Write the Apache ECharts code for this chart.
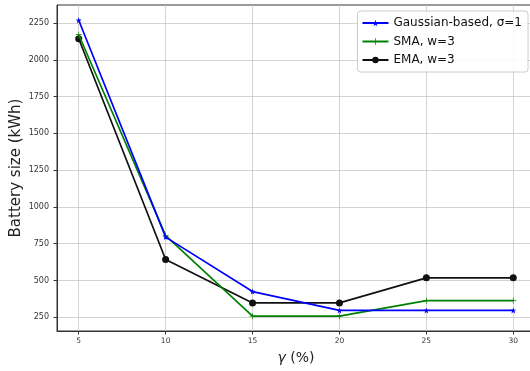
<!DOCTYPE html>
<html>
<head>
<meta charset="utf-8">
<script src="https://cdn.jsdelivr.net/npm/echarts@6/dist/echarts.min.js"></script>
<style>html,body{margin:0;padding:0;background:#fff}#c{width:530px;height:371px}</style>
</head>
<body>
<div id="c"></div>
<script>
const gammaValues = [5, 10, 15, 20, 25, 30];
const gaussian = [2268, 795, 425, 297, 297, 297];
const sma = [2170, 805, 258, 258, 363, 363];
const ema = [2143, 643, 348, 348, 518, 518];
const xTicks = [5, 10, 15, 20, 25, 30];
const yTicks = [250, 500, 750, 1000, 1250, 1500, 1750, 2000, 2250];
const seriesNames = ['Gaussian-based, σ=1', 'SMA, w=3', 'EMA, w=3'];

const starPath = 'path://M50,0 L61.8,34.5 L97.6,34.5 L68.8,55.9 L79.4,90.5 L50,69.1 L20.6,90.5 L31.2,55.9 L2.4,34.5 L38.2,34.5 Z';
const plusPath = 'path://M44,0 H56 V44 H100 V56 H56 V100 H44 V56 H0 V44 H44 Z';

function pairs(vals) { return gammaValues.map((g, i) => [g, vals[i]]); }

const chart = echarts.init(document.getElementById('c'), null, {renderer: 'canvas'});
const font = 'DejaVu Sans';
chart.setOption({
  animation: false,
  textStyle: {fontFamily: font},
  grid: {left: 57, top: 5, width: 478, height: 326, containLabel: false, outerBoundsMode: 'none',
         show: true, borderColor: '#333', borderWidth: 1, backgroundColor: 'transparent'},
  legend: {
    orient: 'vertical', right: 2, top: 11,
    backgroundColor: 'rgba(255,255,255,0.85)', borderColor: '#ccc', borderWidth: 1, borderRadius: 3,
    padding: [6, 6, 6, 4], itemWidth: 26, itemHeight: 8, itemGap: 6.5,
    textStyle: {fontFamily: font, fontSize: 12, color: '#111'},
    data: seriesNames.map(n => ({name: n}))
  },
  xAxis: {
    type: 'value', min: 3.75, max: 31.25,
    name: '{i|γ} (%)', nameLocation: 'middle', nameGap: 20, nameMoveOverlap: false,
    nameTextStyle: {fontSize: 14, color: '#222', fontFamily: font, rich: {i: {fontStyle: 'italic', fontSize: 14, fontFamily: font, color: '#222'}}},
    axisLine: {show: true, lineStyle: {color: '#333', width: 1}},
    axisTick: {show: true, customValues: xTicks, length: 3.5, lineStyle: {color: '#333'}},
    axisLabel: {customValues: xTicks, fontSize: 7.5, color: '#333', margin: 6, fontFamily: font, formatter: v => String(v)},
    splitLine: {show: true, lineStyle: {color: '#c8c8c8', width: 0.8}}
  },
  yAxis: {
    type: 'value', min: 157, max: 2372,
    name: 'Battery size (kWh)', nameLocation: 'middle', nameGap: 33, nameMoveOverlap: false,
    nameTextStyle: {fontSize: 15, color: '#222', fontFamily: font},
    axisLine: {show: true, lineStyle: {color: '#333', width: 1}},
    axisTick: {show: true, customValues: yTicks, length: 3.5, lineStyle: {color: '#333'}},
    axisLabel: {customValues: yTicks, fontSize: 8, color: '#333', margin: 8, fontFamily: font, formatter: v => String(v)},
    splitLine: {show: true, lineStyle: {color: '#c8c8c8', width: 0.8}}
  },
  series: [
    {name: seriesNames[0], type: 'line', data: pairs(gaussian), symbol: starPath, symbolSize: 6,
     lineStyle: {color: '#0000ff', width: 1.7}, itemStyle: {color: '#0000ff'}, z: 4},
    {name: seriesNames[1], type: 'line', data: pairs(sma), symbol: plusPath, symbolSize: 6,
     lineStyle: {color: '#008000', width: 1.7}, itemStyle: {color: '#008000'}, z: 3},
    {name: seriesNames[2], type: 'line', data: pairs(ema), symbol: 'circle', symbolSize: 7,
     lineStyle: {color: '#111111', width: 1.7}, itemStyle: {color: '#111111'}, z: 2}
  ]
});
</script>
</body>
</html>
